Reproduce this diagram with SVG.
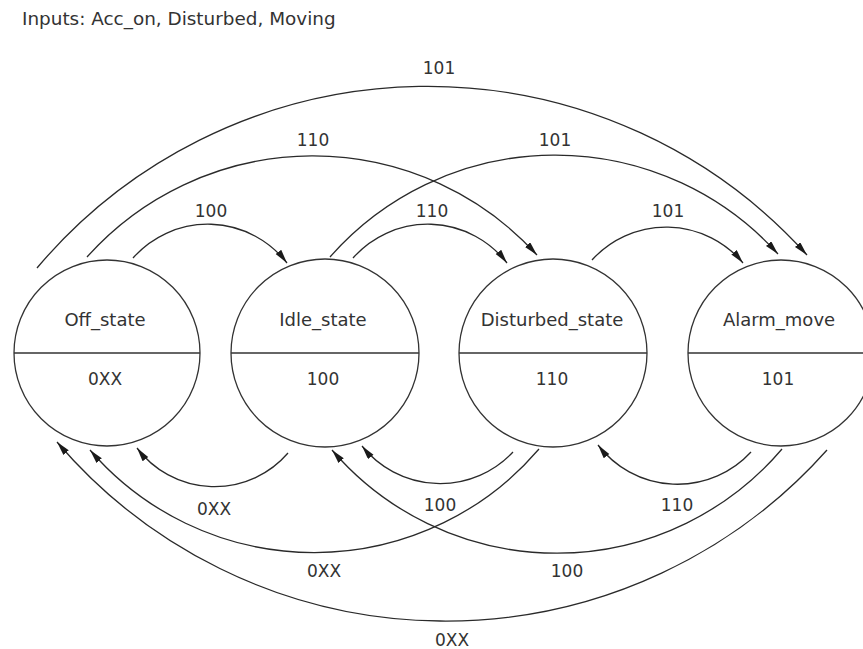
<svg xmlns="http://www.w3.org/2000/svg" width="863" height="649" viewBox="0 0 863 649">
<defs>
<marker id="arr" markerUnits="userSpaceOnUse" markerWidth="16" markerHeight="10" refX="14" refY="3.5" orient="auto">
<path d="M0,0 L14,3.5 L0,7 z" fill="#1a1a1a"/>
</marker>
<style>
.st{fill:#fff;stroke:#333;stroke-width:1.3}
.dv{stroke:#333;stroke-width:1.3}
.t{font-family:"DejaVu Sans",sans-serif;font-size:17px;fill:#333;text-anchor:middle}
.n{font-size:18px}
.e{fill:none;stroke:#2a2a2a;stroke-width:1.3;marker-end:url(#arr)}
</style>
</defs>
<rect width="863" height="649" fill="#fff"/>
<text x="22" y="25" class="t" style="text-anchor:start;font-size:18.4px">Inputs: Acc_on, Disturbed, Moving</text>
<g id="Off_state">
<circle cx="107" cy="353" r="93" class="st"/>
<line x1="14" y1="353" x2="200" y2="353" class="dv"/>
<text x="105" y="326" class="t n">Off_state</text>
<text x="105" y="385" class="t">0XX</text>
</g>
<g id="Idle_state">
<circle cx="325" cy="353" r="94" class="st"/>
<line x1="231" y1="353" x2="419" y2="353" class="dv"/>
<text x="323" y="326" class="t n">Idle_state</text>
<text x="323" y="385" class="t">100</text>
</g>
<g id="Disturbed_state">
<circle cx="553" cy="353" r="94" class="st"/>
<line x1="459" y1="353" x2="647" y2="353" class="dv"/>
<text x="552" y="326" class="t n">Disturbed_state</text>
<text x="552" y="385" class="t">110</text>
</g>
<g id="Alarm_move">
<circle cx="781" cy="353" r="93" class="st"/>
<line x1="688" y1="353" x2="874" y2="353" class="dv"/>
<text x="779" y="326" class="t n">Alarm_move</text>
<text x="778" y="385" class="t">101</text>
</g>
<g id="connectors">
<path class="e" d="M133,258 A100,100 0 0 1 287,263"/>
<path class="e" d="M353,258 A100,100 0 0 1 507,263"/>
<path class="e" d="M592,260 A100,100 0 0 1 743,263"/>
<path class="e" d="M87,257 A303,303 0 0 1 537,255"/>
<path class="e" d="M330,257 A300,300 0 0 1 778,254"/>
<path class="e" d="M37,268 A511,511 0 0 1 807,255"/>
<path class="e" d="M288,453 A97,97 0 0 1 137,448"/>
<path class="e" d="M513,452 A100,100 0 0 1 362,446"/>
<path class="e" d="M751,452 A100,100 0 0 1 598,445"/>
<path class="e" d="M539,449 A296,296 0 0 1 90,450"/>
<path class="e" d="M782,449 A296,296 0 0 1 332,450"/>
<path class="e" d="M827,450 A511,511 0 0 1 57,442"/>
<text x="439" y="74" class="t">101</text>
<text x="313" y="146" class="t">110</text>
<text x="555" y="146" class="t">101</text>
<text x="211" y="217" class="t">100</text>
<text x="432" y="217" class="t">110</text>
<text x="668" y="217" class="t">101</text>
<text x="214" y="515" class="t">0XX</text>
<text x="440" y="511" class="t">100</text>
<text x="677" y="511" class="t">110</text>
<text x="324" y="577" class="t">0XX</text>
<text x="567" y="577" class="t">100</text>
<text x="452" y="646" class="t">0XX</text>
</g>
</svg>
